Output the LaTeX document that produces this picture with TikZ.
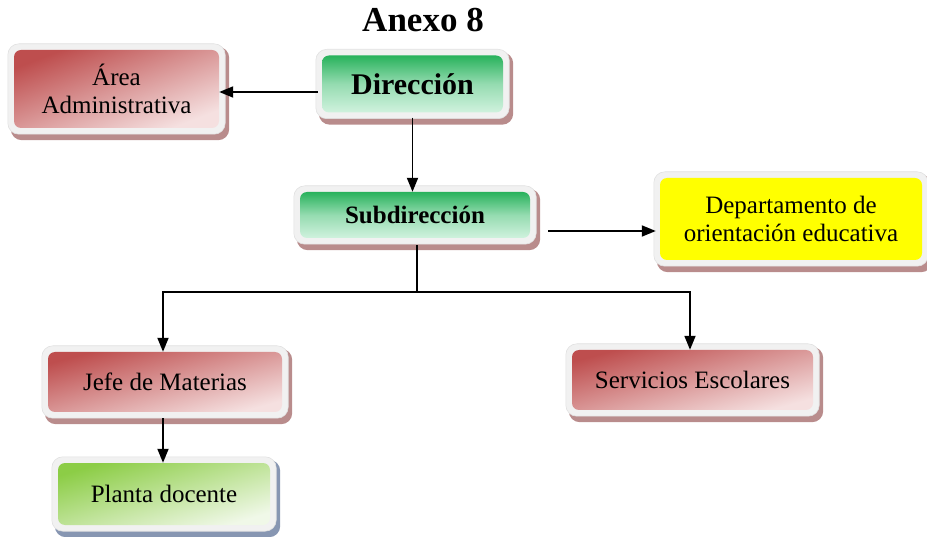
\documentclass[tikz,border=0pt]{standalone}
\usepackage{fontspec}
\setmainfont{Liberation Serif}
\usetikzlibrary{arrows.meta,backgrounds}
\definecolor{framegray}{RGB}{241,241,241}
\definecolor{frameedge}{RGB}{225,225,225}
\definecolor{shred}{RGB}{185,140,140}
\definecolor{shblue}{RGB}{135,150,178}
\definecolor{rdark}{RGB}{190,78,78}
\definecolor{rlight}{RGB}{245,224,224}
\definecolor{gtop}{RGB}{40,178,92}
\definecolor{gbot}{RGB}{208,242,222}
\definecolor{ltop}{RGB}{140,205,70}
\definecolor{lbot}{RGB}{240,248,232}
\definecolor{yel}{RGB}{255,255,0}
\newcommand\orgframeX[2]{%
  \fill[#2, rounded corners=11pt] ([shift={(-3pt,3pt)}]#1.north west) rectangle ([shift={(10pt,-12pt)}]#1.south east);
  \filldraw[fill=framegray, draw=frameedge, line width=0.6pt, rounded corners=11pt] ([shift={(-6pt,6pt)}]#1.north west) rectangle ([shift={(6pt,-6pt)}]#1.south east);
}
\begin{document}
\begin{tikzpicture}[x=1pt,y=-1pt,
  inbox/.style={rectangle, rounded corners=7pt, inner sep=0pt, align=center, text=black,
    font=\fontsize{25}{28}\selectfont},
  redbox/.style={inbox, top color=rdark, bottom color=rlight, shading angle=#1},
  redbox/.default=18,
  greenbox/.style={inbox, top color=gtop, bottom color=gbot, middle color=gtop!35!gbot},
  limebox/.style={inbox, top color=ltop, bottom color=lbot, shading angle=17},
  yelbox/.style={inbox, fill=yel},
  arr/.style={line width=1.8pt, -{Triangle[length=14pt,width=11pt]}},
  plain/.style={line width=1.8pt}]
\useasboundingbox (0,0) rectangle (927,537);

\node[font=\bfseries\fontsize{35}{40}\selectfont, anchor=base] (title) at (423,32) {Anexo 8};

\node[redbox=21, minimum width=205pt, minimum height=78pt] (area) at (116.5,89) {Área\\Administrativa};
\node[greenbox, minimum width=181pt, minimum height=57pt, font=\bfseries\fontsize{30}{34}\selectfont] (dir) at (412.5,84) {Dirección};
\node[greenbox, minimum width=230pt, minimum height=46pt, font=\bfseries\fontsize{25}{28}\selectfont] (sub) at (415,215) {Subdirección};
\node[yelbox, minimum width=262pt, minimum height=82pt] (dep) at (791,219) {Departamento de\\orientación educativa};
\node[redbox=15, minimum width=234pt, minimum height=60pt] (jefe) at (165,382) {Jefe de Materias};
\node[limebox, minimum width=212pt, minimum height=62pt] (planta) at (164,494) {Planta docente};
\node[redbox=15, minimum width=241pt, minimum height=60pt] (serv) at (692.5,380) {Servicios Escolares};

\begin{pgfonlayer}{background}
  \orgframeX{area}{shred}
  \orgframeX{dir}{shred}
  \orgframeX{sub}{shred}
  \orgframeX{dep}{shred}
  \orgframeX{jefe}{shred}
  \orgframeX{planta}{shblue}
  \orgframeX{serv}{shred}
\end{pgfonlayer}

\coordinate (bm) at (417,292);
\draw[arr, shorten <=4pt] (dir.west |- 0,92) -- (area.east |- 0,92);
\draw[arr, shorten <=5pt] (dir.south) -- (dir.south |- sub.north);
\draw[arr, shorten <=18pt, shorten >=4pt] (sub.east |- 0,231) -- (dep.west |- 0,231);
\draw[plain, shorten <=7pt] (sub.south -| bm) -- (bm);
\draw[arr] (bm) -| ([xshift=-2pt]jefe.north);
\draw[arr] (bm) -| ([xshift=-2.5pt]serv.north);
\draw[arr, shorten <=6pt] ([xshift=-2pt]jefe.south) -- ([xshift=-2pt]jefe.south |- planta.north);
\end{tikzpicture}
\end{document}
